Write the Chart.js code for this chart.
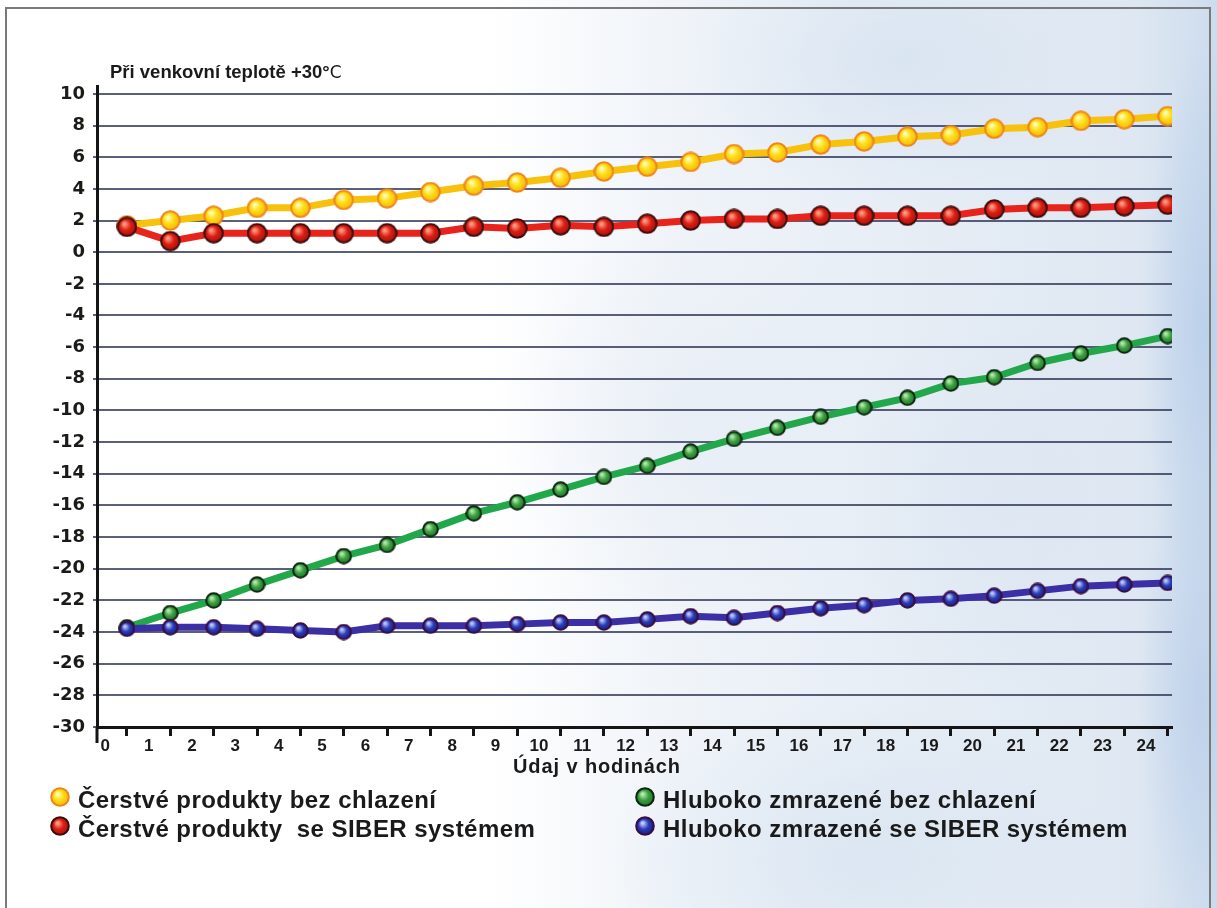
<!DOCTYPE html>
<html lang="cs">
<head>
<meta charset="utf-8">
<script src="https://cdn.jsdelivr.net/npm/chart.js@4.4.1/dist/chart.umd.min.js"></script>
<style>
  html, body { margin: 0; padding: 0; }
  body {
    width: 1217px; height: 908px; overflow: hidden; position: relative;
    font-family: "Liberation Sans", Arial, sans-serif;
    background:
      radial-gradient(ellipse 60px 300px at 1205px 330px, rgba(185,207,234,0.9), rgba(185,207,234,0) 100%),
      radial-gradient(ellipse 60px 240px at 1200px 700px, rgba(188,208,234,0.85), rgba(188,208,234,0) 100%),
      radial-gradient(ellipse 220px 140px at 900px 60px, rgba(212,225,240,0.7), rgba(212,225,240,0) 100%),
      radial-gradient(ellipse 260px 160px at 860px 860px, rgba(214,227,241,0.7), rgba(214,227,241,0) 100%),
      radial-gradient(ellipse 200px 200px at 700px 420px, rgba(228,235,244,0.6), rgba(228,235,244,0) 100%),
      radial-gradient(ellipse 160px 200px at 1000px 500px, rgba(218,229,241,0.6), rgba(218,229,241,0) 100%),
      linear-gradient(to right, #ffffff 0%, #ffffff 40%, #f0f4f9 55%, #e6edf5 75%, #dfe8f2 93%, #cddcee 100%);
  }
  .frame {
    position: absolute; left: 5px; top: 7px; width: 1206px; height: 910px;
    border: 2px solid #7a7a7a; border-bottom: none; box-sizing: border-box;
  }
  #chart { position: absolute; left: 0; top: 0; }
  .title {
    position: absolute; left: 110px; top: 61px;
    font-size: 18.5px; font-weight: bold; color: #1a1a1a; white-space: nowrap;
  }
  .title span { font-weight: normal; font-family: "DejaVu Sans", sans-serif; font-size: 17px; }
  .xtitle {
    position: absolute; left: 513px; top: 755px;
    font-size: 20px; font-weight: bold; color: #1a1a1a; white-space: nowrap; letter-spacing: 0.9px;
  }
  .legend { position: absolute; top: 785px; font-size: 24px; font-weight: bold; color: #1a1a1a; letter-spacing: 0.45px; }
  .legend div { height: 29px; line-height: 29px; white-space: pre; display: flex; align-items: center; }
  .legend canvas { margin-right: 8px; position: relative; top: -3px; }
</style>
</head>
<body>
<div class="frame"></div>
<canvas id="chart" width="1217" height="908"></canvas>
<div class="title">Při venkovní teplotě +30°<span>C</span></div>
<div class="xtitle">Údaj v hodinách</div>
<div class="legend" id="legLeft" style="left:50px"></div>
<div class="legend" id="legRight" style="left:635px"></div>
<script>
  // data
  const hours = [0, 1, 2, 3, 4, 5, 6, 7, 8, 9, 10, 11, 12, 13, 14, 15, 16, 17, 18, 19, 20, 21, 22, 23, 24];
  const hourLabels = ["0", "1", "2", "3", "4", "5", "6", "7", "8", "9", "10", "11", "12",
    "13", "14", "15", "16", "17", "18", "19", "20", "21", "22", "23", "24"];
  const yTicks = [10, 8, 6, 4, 2, 0, -2, -4, -6, -8, -10, -12, -14, -16, -18, -20, -22, -24, -26, -28, -30];

  const freshNoCool = [1.7, 2.0, 2.3, 2.8, 2.8, 3.3, 3.4, 3.8, 4.2, 4.4, 4.7, 5.1, 5.4,
    5.7, 6.2, 6.3, 6.8, 7.0, 7.3, 7.4, 7.8, 7.9, 8.3, 8.4, 8.6];
  const freshSiber = [1.6, 0.7, 1.2, 1.2, 1.2, 1.2, 1.2, 1.2, 1.6, 1.5, 1.7, 1.6, 1.8,
    2.0, 2.1, 2.1, 2.3, 2.3, 2.3, 2.3, 2.7, 2.8, 2.8, 2.9, 3.0];
  const frozenNoCool = [-23.7, -22.8, -22.0, -21.0, -20.1, -19.2, -18.5, -17.5, -16.5, -15.8, -15.0, -14.2, -13.5,
    -12.6, -11.8, -11.1, -10.4, -9.8, -9.2, -8.3, -7.9, -7.0, -6.4, -5.9, -5.3];
  const frozenSiber = [-23.8, -23.7, -23.7, -23.8, -23.9, -24.0, -23.6, -23.6, -23.6, -23.5, -23.4, -23.4, -23.2,
    -23.0, -23.1, -22.8, -22.5, -22.3, -22.0, -21.9, -21.7, -21.4, -21.1, -21.0, -20.9];

  const seriesLabels = [
    "Čerstvé produkty bez chlazení",
    "Čerstvé produkty  se SIBER systémem",
    "Hluboko zmrazené bez chlazení",
    "Hluboko zmrazené se SIBER systémem",
  ];

  // shaded ball for points and legend
  function makeBall(size, c) {
    const cv = document.createElement("canvas");
    cv.width = size; cv.height = size;
    const g = cv.getContext("2d");
    const r = size / 2;
    const grad = g.createRadialGradient(r * 0.75, r * 0.7, r * 0.1, r, r, r);
    grad.addColorStop(0, c.hi);
    grad.addColorStop(0.45, c.mid);
    grad.addColorStop(1, c.edge);
    g.beginPath();
    g.arc(r, r, r - 1.2, 0, Math.PI * 2);
    g.fillStyle = grad;
    g.fill();
    g.lineWidth = 2;
    g.strokeStyle = c.rim;
    g.stroke();
    return cv;
  }

  const styles = [
    { line: "#f7c10c", hi: "#fffbb0", mid: "#ffdc10", edge: "#f4b010", rim: "#f0841c", size: 21 },
    { line: "#e8231c", hi: "#ff9a80", mid: "#dc1e12", edge: "#9a1010", rim: "#3c0c0a", size: 21 },
    { line: "#22a84a", hi: "#b8e8b0", mid: "#3aa040", edge: "#1a6a28", rim: "#0c240e", size: 17 },
    { line: "#3c2ea4", hi: "#c0c8ff", mid: "#2a3cb8", edge: "#141a70", rim: "#3a0c40", size: 17 },
  ];
  const seriesValues = [freshNoCool, freshSiber, frozenNoCool, frozenSiber];

  const datasets = seriesValues.map((vals, i) => ({
    label: seriesLabels[i],
    data: hours.map((h, j) => ({ x: h, y: vals[j] })),
    borderColor: styles[i].line,
    borderWidth: 7,
    pointStyle: makeBall(styles[i].size, styles[i]),
    pointRadius: styles[i].size / 2,
    tension: 0,
  }));
  // chart.js paints the first dataset last (on top): red over yellow, blue over green
  const order = [1, 0, 3, 2];
  const drawSets = order.map((i) => datasets[i]);

  // y axis line runs a little past the x axis, as in the print
  const axisTail = {
    id: "axisTail",
    afterDraw(chart) {
      const { ctx, chartArea } = chart;
      ctx.save();
      ctx.strokeStyle = "#151515";
      ctx.lineWidth = 3;
      ctx.beginPath();
      ctx.moveTo(chartArea.left, chartArea.bottom);
      ctx.lineTo(chartArea.left, chartArea.bottom + 16);
      ctx.stroke();
      ctx.restore();
    },
  };

  new Chart(document.getElementById("chart"), {
    type: "line",
    data: { datasets: drawSets },
    plugins: [axisTail],
    options: {
      responsive: false,
      animation: false,
      layout: { padding: { left: 48, top: 86, right: 45, bottom: 151 } },
      plugins: { legend: { display: false }, tooltip: { enabled: false } },
      scales: {
        x: {
          type: "linear",
          min: -0.69,
          max: 24.1,
          afterBuildTicks: (scale) => {
            const t = [];
            hours.forEach((h) => {
              t.push({ value: h - 0.5 });
              t.push({ value: h });
            });
            scale.ticks = t;
          },
          afterFit: (scale) => { scale.height = 30; },
          ticks: {
            autoSkip: false,
            maxRotation: 0,
            padding: 0,
            color: "#1a1a1a",
            font: { family: "Liberation Sans", size: 17, weight: "bold" },
            callback: (v) => (Number.isInteger(v) ? "" : hourLabels[v + 0.5]),
          },
          grid: {
            drawOnChartArea: false,
            drawTicks: true,
            tickLength: 9,
            tickWidth: 3,
            tickColor: (ctx) => (ctx.tick && Number.isInteger(ctx.tick.value) ? "#151515" : "rgba(0,0,0,0)"),
          },
          border: { display: true, color: "#151515", width: 3 },
        },
        y: {
          min: -30,
          max: 10.5,
          afterBuildTicks: (scale) => {
            scale.ticks = yTicks.map((v) => ({ value: v }));
          },
          afterFit: (scale) => { scale.width = 49; },
          ticks: {
            padding: 8,
            color: "#1a1a1a",
            font: { family: "DejaVu Sans", size: 18, weight: "bold" },
          },
          grid: {
            color: "rgba(50,55,88,0.8)",
            lineWidth: 2,
            drawTicks: true,
            tickLength: 4,
          },
          border: { display: true, color: "#151515", width: 3 },
        },
      },
    },
  });

  // legend: two columns
  const legendCols = [["legLeft", [0, 1]], ["legRight", [2, 3]]];
  legendCols.forEach(([id, idx]) => {
    const box = document.getElementById(id);
    idx.forEach((i) => {
      const row = document.createElement("div");
      row.appendChild(makeBall(20, styles[i]));
      row.appendChild(document.createTextNode(seriesLabels[i]));
      box.appendChild(row);
    });
  });
</script>
</body>
</html>
